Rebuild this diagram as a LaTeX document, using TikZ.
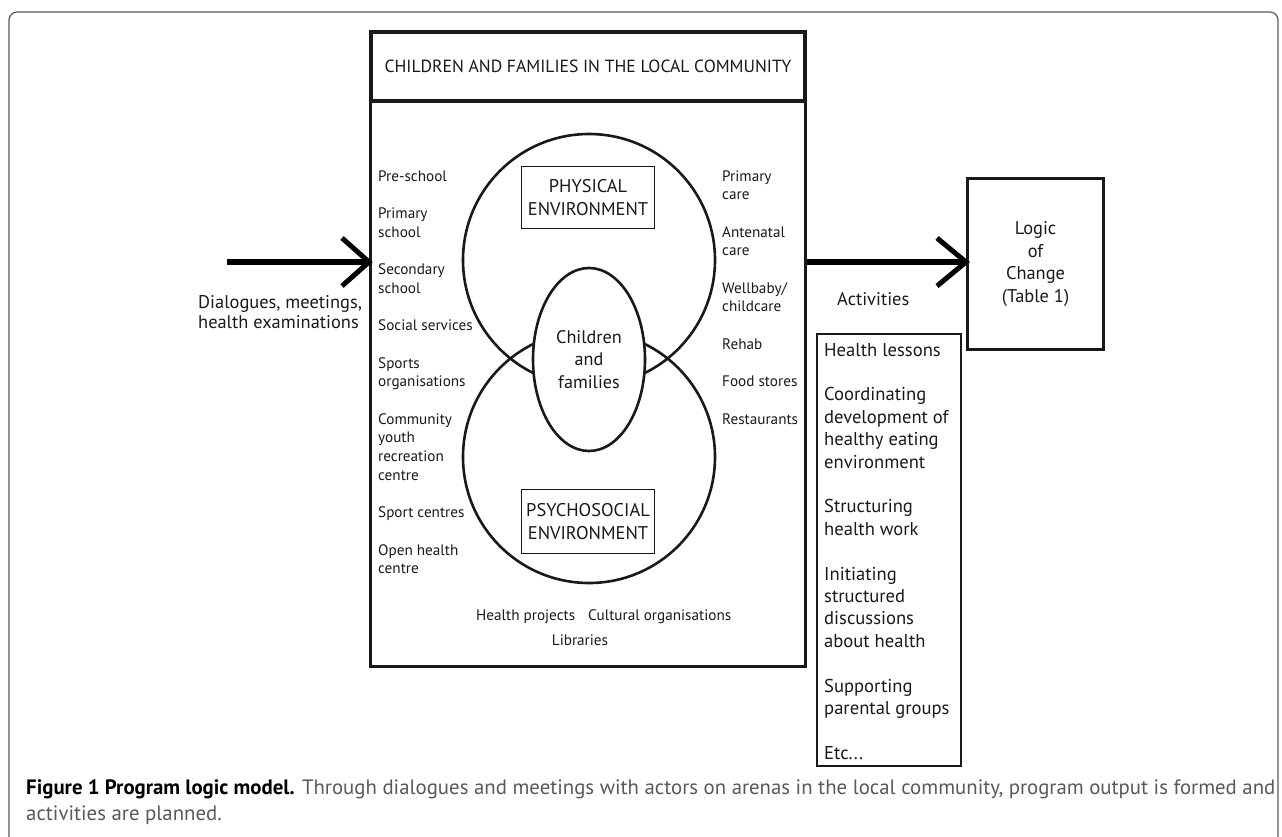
\documentclass[tikz,border=0pt]{standalone}
\usepackage{fontspec}
\setmainfont{PT Sans}
\usetikzlibrary{shapes.geometric}

\begin{document}
\begin{tikzpicture}[x=1pt,y=-1pt,
        ink/.style={draw=black!90,text=black!90},
        box/.style={ink, line width=#1, inner sep=0pt},
        lbl/.style={inner sep=0pt, text=black!90, font=\fontsize{15.2}{18.7}\selectfont, align=left, anchor=base west},
        big/.style={font=\fontsize{18.4}{22.4}\selectfont},
        ring/.style={ink, circle, line width=2.6pt, minimum size=252pt},
        shaft/.style={line width=6pt},
        barb/.style={line width=5pt}]
    \useasboundingbox (0,0) rectangle (1282,836);
    \draw[draw=black!65, line width=1.2pt, rounded corners=8pt] (9,12) rectangle (1278,870);

    % the community and its arenas (multi-line labels sit on their last baseline)
    \node[box=3pt, minimum width=435pt, minimum height=565pt] (area) at (588,384) {};
    \node[box=4pt, fill=white, minimum width=434pt, minimum height=69pt, font=\fontsize{17.6}{20}\selectfont] (title) at (588,66.5) {CHILDREN AND FAMILIES IN THE LOCAL COMMUNITY};
    \node[ring] (phys) at (589,260) {};
    \node[ring] (psy) at (589,457) {};
    \node[ink, ellipse, line width=2.6pt, fill=white, minimum width=112pt, minimum height=183pt, inner sep=0pt, align=center, font=\fontsize{18.2}{22.5}\selectfont] (kids) at (589,359.5) {Children\\and\\families};
    \node[box=1.6pt, minimum width=133pt, minimum height=62pt, big, align=center] (physenv) at (588,197.5) {PHYSICAL\\ENVIRONMENT};
    \node[box=1.6pt, minimum width=133pt, minimum height=64pt, big, align=center] (psyenv) at (588,521.5) {PSYCHOSOCIAL\\ENVIRONMENT};

    \node[lbl] (arenasL) at (378,573.7) {Pre-school\\[18.7pt]Primary\\school\\[18.7pt]Secondary\\school\\[18.7pt]Social services\\[18.7pt]Sports\\organisations\\[18.7pt]Community\\youth\\recreation\\centre\\[18.7pt]Sport centres\\[18.7pt]Open health\\centre};
    \node[lbl] (arenasR) at (722,424.1) {Primary\\care\\[18.7pt]Antenatal\\care\\[18.7pt]Wellbaby/\\childcare\\[18.7pt]Rehab\\[18.7pt]Food stores\\[18.7pt]Restaurants};
    \node[lbl] (hproj) at (476,620.5) {Health projects};
    \node[lbl] (cult) at (588,620.5) {Cultural organisations};
    \node[lbl, anchor=base] (libs) at (580,645.5) {Libraries};

    % input and output
    \coordinate (src) at (227,262);
    \node[lbl, font=\fontsize{18.4}{20}\selectfont] (talks) at (198,328.3) {Dialogues, meetings,\\health examinations};
    \node[box=3pt, minimum width=136pt, minimum height=171pt, big, align=center] (logic) at (1035.5,264) {Logic\\of\\Change\\(Table 1)};
    \draw[shaft] (src) -- (src -| area.west);
    \draw[barb] (src -| area.west) ++(-27,-24) -- (src -| area.west) -- ++(-27,24);
    \draw[shaft] (area.east |- src) -- (logic.west |- src);
    \draw[barb] (logic.west |- src) ++(-29,-24) -- (logic.west |- src) -- ++(-29,24);

    \node[lbl, big] (act) at (837,305) {Activities};
    \node[box=1.8pt, minimum width=144pt, minimum height=432pt] (actbox) at (889,550) {};
    \node[lbl, font=\fontsize{18.6}{22.4}\selectfont] (actlist) at (824,759.2) {Health lessons\\[22.4pt]Coordinating\\development of\\healthy eating\\environment\\[22.4pt]Structuring\\health work\\[22.4pt]Initiating\\structured\\discussions\\about health\\[22.4pt]Supporting\\parental groups\\[22.4pt]Etc...};

    \node[lbl, font=\fontsize{20.8}{26}\selectfont, text=black!65] (caption) at (26,820) {\textcolor{black}{\textbf{Figure 1 Program logic model.}} Through dialogues and meetings with actors on arenas in the local community, program output is formed and\\activities are planned.};
\end{tikzpicture}
\end{document}
